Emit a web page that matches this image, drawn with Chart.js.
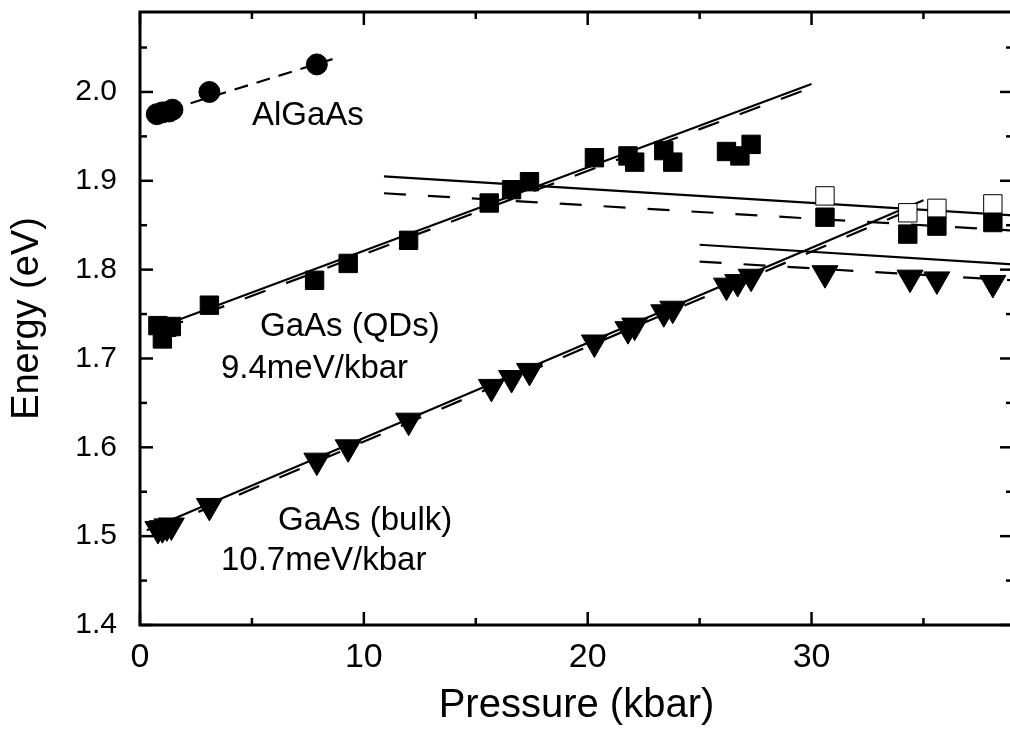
<!DOCTYPE html>
<html>
<head>
<meta charset="utf-8">
<script src="https://cdn.jsdelivr.net/npm/chart.js@4.4.1/dist/chart.umd.min.js"></script>
<style>
  html, body { margin: 0; padding: 0; background: #fff; overflow: hidden; }
  #wrap { width: 1010px; height: 746px; overflow: hidden; position: relative; }
  canvas { display: block; }
</style>
</head>
<body>
<div id="wrap"><canvas id="c" width="1024" height="746"></canvas></div>
<script>
// ---------- data ----------
const xMajorTicks = [0, 10, 20, 30];
const xMinorTicks = [5, 15, 25, 35];
const yMajorTicks = [1.4, 1.5, 1.6, 1.7, 1.8, 1.9, 2.0];
const yMinorTicks = [1.45, 1.55, 1.65, 1.75, 1.85, 1.95, 2.05];

// AlGaAs (filled circles)
const alP = [0.75, 1.0, 1.3, 1.45, 3.1, 7.9];
const alE = [1.975, 1.977, 1.978, 1.980, 2.000, 2.031];

// GaAs QDs (filled squares)
const qdP = [0.8, 1.0, 1.2, 1.4, 3.1, 7.8, 9.3, 12.0, 15.6, 16.6, 17.4, 20.3, 21.8, 22.1, 23.4, 23.8, 26.2, 26.8, 27.3, 30.6, 34.3, 35.6, 38.1];
const qdE = [1.737, 1.722, 1.735, 1.736, 1.760, 1.788, 1.807, 1.833, 1.875, 1.890, 1.899, 1.926, 1.928, 1.921, 1.934, 1.921, 1.933, 1.928, 1.941, 1.859, 1.840, 1.849, 1.853];

// GaAs QDs (open squares)
const qdOpenP = [30.6, 34.3, 35.6, 38.1];
const qdOpenE = [1.883, 1.864, 1.869, 1.874];

// GaAs bulk (down triangles)
const bulkP = [0.8, 1.0, 1.2, 1.4, 3.1, 7.9, 9.3, 12.0, 15.7, 16.6, 17.4, 20.3, 21.8, 22.1, 23.4, 23.8, 26.2, 26.7, 27.3, 30.6, 34.4, 35.6, 38.1];
const bulkE = [1.508, 1.509, 1.511, 1.512, 1.534, 1.585, 1.600, 1.630, 1.668, 1.678, 1.686, 1.718, 1.733, 1.737, 1.752, 1.756, 1.782, 1.786, 1.792, 1.796, 1.791, 1.789, 1.785];

// fit lines (end points)
const alFitP = [0.3, 8.6],   alFitE = [1.972, 2.037];
const qdFitP = [0.5, 30.0],  qdFitE = [1.732, 2.009];
const qdFitDP = [1.0, 30.0], qdFitDE = [1.733, 2.005];
const bkFitP = [0.3, 35.0],  bkFitE = [1.5067, 1.878];
const bkFitDP = [0.8, 34.0], bkFitDE = [1.508, 1.863];
const qdXP = [10.9, 39.0],   qdXE = [1.905, 1.861];
const qdXDP = [10.9, 39.0],  qdXDE = [1.886, 1.844];
const bkXP = [25.0, 39.0],   bkXE = [1.828, 1.806];
const bkXDP = [25.0, 39.0],  bkXDE = [1.809, 1.788];

const labels = [
  { text: 'AlGaAs',       x: 252, y: 125 },
  { text: 'GaAs (QDs)',   x: 260, y: 336 },
  { text: '9.4meV/kbar',  x: 221, y: 378 },
  { text: 'GaAs (bulk)',  x: 278, y: 530 },
  { text: '10.7meV/kbar', x: 221, y: 570 }
];

// ---------- helpers ----------
const pts = (xs, ys) => xs.map((x, i) => ({ x: x, y: ys[i] }));
const FONT = "'Liberation Sans', Arial, Helvetica, sans-serif";

function lineDs(xs, ys, dashed, dash) {
  return {
    type: 'scatter', data: pts(xs, ys), showLine: true,
    borderColor: '#000', borderWidth: 2.2, pointRadius: 0,
    borderDash: dashed ? (dash || [22, 22]) : [], fill: false, order: 5
  };
}
function markDs(xs, ys, style, r, fill, rot, ord) {
  return {
    type: 'scatter', data: pts(xs, ys), showLine: false,
    pointStyle: style, pointRadius: r, pointHoverRadius: r,
    pointRotation: rot || 0,
    backgroundColor: fill, borderColor: '#000', borderWidth: 1,
    order: ord
  };
}

const framePlugin = {
  id: 'frame',
  afterDatasetsDraw(chart) {
    const { ctx, chartArea: a, scales: { x, y } } = chart;
    ctx.save();
    ctx.strokeStyle = '#000';
    ctx.lineCap = 'butt';
    ctx.lineWidth = 2.5;
    const tk = (x1, y1, x2, y2) => { ctx.beginPath(); ctx.moveTo(x1, y1); ctx.lineTo(x2, y2); ctx.stroke(); };
    xMajorTicks.forEach(v => { const px = x.getPixelForValue(v); tk(px, a.bottom, px, a.bottom - 13); tk(px, a.top, px, a.top + 13); });
    xMinorTicks.forEach(v => { const px = x.getPixelForValue(v); tk(px, a.bottom, px, a.bottom - 7); tk(px, a.top, px, a.top + 7); });
    yMajorTicks.forEach(v => { const py = y.getPixelForValue(v); tk(a.left, py, a.left + 13, py); tk(a.right, py, a.right - 13, py); });
    yMinorTicks.forEach(v => { const py = y.getPixelForValue(v); tk(a.left, py, a.left + 7, py); tk(a.right, py, a.right - 7, py); });
    ctx.lineWidth = 3;
    ctx.strokeRect(a.left, a.top, a.right - a.left, a.bottom - a.top);
    ctx.fillStyle = '#000';
    ctx.font = '33px ' + FONT;
    ctx.textBaseline = 'alphabetic';
    ctx.textAlign = 'left';
    labels.forEach(l => ctx.fillText(l.text, l.x, l.y));
    ctx.restore();
  }
};

new Chart(document.getElementById('c'), {
  type: 'scatter',
  data: {
    datasets: [
      lineDs(alFitP, alFitE, true, [14, 9]),
      lineDs(qdFitP, qdFitE, false),
      lineDs(qdFitDP, qdFitDE, true),
      lineDs(bkFitP, bkFitE, false),
      lineDs(bkFitDP, bkFitDE, true),
      lineDs(qdXP, qdXE, false),
      lineDs(qdXDP, qdXDE, true),
      lineDs(bkXP, bkXE, false),
      lineDs(bkXDP, bkXDE, true),
      markDs(alP, alE, 'circle', 10.5, '#000', 0, 1),
      markDs(qdOpenP, qdOpenE, 'rect', 13, '#fff', 0, 2),
      markDs(qdP, qdE, 'rect', 13, '#000', 0, 1),
      markDs(bulkP, bulkE, 'triangle', 15, '#000', 180, 1)
    ]
  },
  options: {
    responsive: false,
    animation: false,
    devicePixelRatio: 1,
    layout: { autoPadding: false, padding: { top: 12, right: 11, left: 0, bottom: 0 } },
    plugins: { legend: { display: false }, tooltip: { enabled: false } },
    events: [],
    scales: {
      x: {
        type: 'linear', min: 0, max: 39,
        afterFit: s => { s.height = 121; s.paddingLeft = 0; s.paddingRight = 0; },
        afterBuildTicks: s => { s.ticks = xMajorTicks.map(v => ({ value: v })); },
        grid: { display: false, drawTicks: false },
        border: { display: false },
        ticks: { color: '#000', font: { family: FONT, size: 34 }, padding: 12, maxRotation: 0, callback: v => String(v) },
        title: { display: true, text: 'Pressure (kbar)', color: '#000', font: { family: FONT, size: 40 }, padding: { top: 0, bottom: 16 } }
      },
      y: {
        type: 'linear', min: 1.4, max: 2.09,
        afterFit: s => { s.width = 140; s.paddingTop = 0; s.paddingBottom = 0; },
        afterBuildTicks: s => { s.ticks = yMajorTicks.map(v => ({ value: v })); },
        grid: { display: false, drawTicks: false },
        border: { display: false },
        ticks: { color: '#000', font: { family: FONT, size: 30 }, padding: 23, callback: v => v.toFixed(1) },
        title: { display: true, text: 'Energy (eV)', color: '#000', font: { family: FONT, size: 38 }, padding: { top: 5, bottom: 0 } }
      }
    }
  },
  plugins: [framePlugin]
});
</script>
</body>
</html>
